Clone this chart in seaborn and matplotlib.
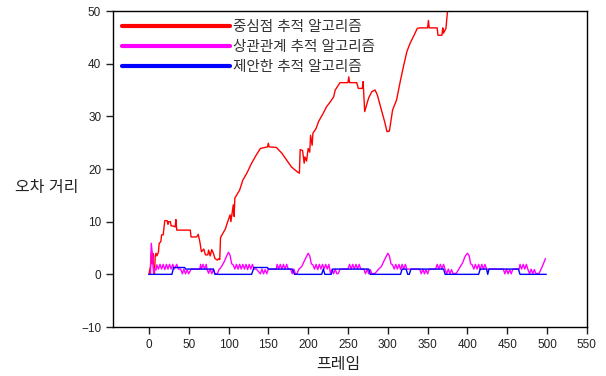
import numpy as np
import pandas as pd
import matplotlib
matplotlib.use("Agg")
import matplotlib.pyplot as plt
import seaborn as sns

# red: centroid tracking (frame, error)
red_frame = [0, 2, 3, 4, 5, 6, 7, 8, 9, 10, 12, 13, 15, 16, 18, 20, 23, 24, 25, 27, 28, 30, 33,
             34, 35, 52, 53, 60, 62, 64, 66, 69, 71, 74, 75, 77, 79, 81, 83, 86, 88, 89, 90, 93,
             96, 99, 102, 103, 106, 107, 108, 110, 114, 118, 123, 129, 135, 140, 149, 150, 151,
             160, 167, 173, 179, 186, 189, 190, 193, 195, 196, 198, 200, 202, 203, 205, 206, 210,
             213, 219, 223, 228, 232, 234, 240, 250, 251, 252, 261, 263, 268, 269, 271, 274, 276,
             280, 284, 287, 292, 296, 299, 302, 306, 311, 316, 320, 324, 328, 333, 337, 340, 350,
             351, 352, 362, 363, 368, 369, 370, 373, 375, 378]
red_err = [0, 1.5, 4.0, 2.0, 4.0, 0.5, 0, 3.5, 4.0, 3.5, 4.2, 5.9, 6.2, 7.5, 7.5, 10.2, 10.2, 9.5,
           10.0, 10.0, 9.2, 9.2, 9.0, 10.4, 8.4, 8.4, 7.1, 7.1, 7.6, 6.2, 4.3, 4.8, 3.7, 3.7, 4.6,
           3.5, 4.7, 4.0, 3.0, 2.7, 3.0, 2.8, 7.0, 7.8, 8.6, 10.0, 11.3, 10.0, 13.2, 11.0, 14.5,
           15.0, 16.0, 17.9, 19.2, 21.1, 22.7, 23.9, 24.2, 24.9, 24.2, 24.1, 23.0, 21.7, 20.4,
           19.5, 19.2, 23.7, 23.5, 21.1, 22.3, 21.5, 23.9, 23.2, 26.4, 24.5, 26.8, 27.7, 29.0,
           30.6, 31.8, 32.8, 33.7, 35.0, 36.4, 36.4, 37.5, 36.4, 36.4, 35.3, 35.3, 36.6, 30.9,
           32.5, 33.5, 34.7, 35.0, 34.0, 31.2, 29.0, 27.1, 27.2, 31.2, 33.1, 36.9, 39.7, 42.3,
           43.9, 45.4, 46.7, 46.8, 46.8, 48.2, 46.8, 46.8, 45.4, 45.4, 46.8, 45.8, 46.7, 50, 56]

# magenta: correlation tracking
mag_frame = [0, 2, 3, 5, 6, 7, 9, 10, 12, 14, 16, 18, 20, 22, 24, 26, 28, 30, 32, 35, 37, 40, 42,
             44, 46, 48, 50, 53, 64, 65, 66, 68, 70, 72, 73, 75, 77, 79, 81, 83, 86, 88, 90, 94,
             98, 100, 102, 104, 106, 108,
             110, 112, 114, 116, 118, 120, 122, 124, 126, 128, 130, 132, 135, 140, 142, 144, 146,
             148, 150, 160, 161, 163, 165, 167, 169, 171, 173, 175, 178, 180, 182, 184, 186, 188,
             192, 196, 200, 202, 204, 206, 208,
             210, 212, 214, 216, 218, 220, 222, 224, 226, 228, 230, 232, 234, 236, 238, 240, 250,
             252, 254, 256, 258, 260, 262, 264, 266, 270, 272, 274, 276, 278, 280, 284, 288, 292,
             296, 300, 302, 304, 306, 308,
             310, 312, 314, 316, 318, 320, 322, 324, 330, 340, 342, 344, 346, 348, 350, 352, 360,
             362, 364, 366, 368, 370, 372, 374, 376, 378, 380, 382, 386, 390, 394, 397, 400, 402,
             404, 406, 408,
             410, 412, 414, 416, 418, 420, 422, 424, 426, 445, 447, 449, 451, 453, 455, 457, 465,
             466, 468, 470, 472, 474, 476, 478, 480, 482, 484, 486, 490, 494, 498]
mag_err = [0, 0, 5.9, 3.0, 0.3, 1.0, 0.8, 1.8, 1.0, 1.9, 1.0, 1.9, 0.9, 1.9, 1.0, 1.9, 1.0, 1.9,
           1.0, 1.9, 1.0, 1.0, 0.1, 1.0, 0.1, 0.8, 0.1, 1.0, 1.0, 1.9, 1.0, 1.9, 1.0, 1.9, 1.0,
           0.2, 1.0, 0.1, 1.0, 0.1, 0.1, 0.9, 1.2, 2.2, 3.6, 4.2, 3.6, 2.0, 1.8, 1.0,
           1.9, 1.0, 1.9, 1.0, 1.9, 1.0, 1.9, 0.9, 1.9, 1.0, 1.9, 1.0, 1.0, 0.1, 1.0, 0.1, 0.9,
           0.1, 1.0, 1.0, 1.9, 1.0, 1.9, 1.0, 1.9, 1.0, 1.9, 1.0, 1.0, 0.1, 1.0, 0.1, 0.1, 0.9,
           1.5, 2.8, 4.0, 3.5, 2.0, 1.8, 1.0,
           1.9, 0.9, 1.9, 1.0, 1.9, 1.0, 1.9, 1.0, 1.9, 0.2, 1.0, 0.1, 1.0, 0.1, 0.2, 1.0, 1.0,
           1.9, 1.0, 1.9, 1.0, 1.9, 1.0, 1.9, 1.0, 1.0, 0.1, 1.0, 0.1, 0.9, 0.1, 0.2, 0.9, 1.5,
           2.8, 4.0, 3.5, 2.0, 1.8, 1.0,
           1.9, 1.0, 1.9, 0.9, 1.9, 1.0, 1.9, 1.0, 1.0, 1.0, 0.1, 1.0, 0.1, 0.9, 0.1, 1.0, 1.0,
           1.9, 1.0, 1.9, 1.0, 1.9, 0.9, 0.1, 1.0, 0.1, 0.9, 0.1, 0.2, 1.2, 2.2, 3.4, 4.0, 3.6,
           2.0, 1.8, 1.0,
           1.9, 1.0, 1.9, 0.9, 1.9, 1.0, 1.9, 1.0, 1.0, 1.0, 0.1, 1.0, 0.1, 0.9, 0.1, 1.0, 1.0,
           1.9, 1.0, 1.9, 1.0, 1.9, 0.9, 0.1, 1.0, 0.1, 0.9, 0.1, 0.2, 1.5, 3.0]

# blue: proposed tracking
blue_frame = [0, 29, 31, 45, 46, 81, 83, 129, 132, 149, 150, 180, 183, 217, 219, 221, 229, 231,
              276, 278, 316, 318, 323, 325, 327, 329, 370, 372, 414, 416, 424, 425.5, 427, 464,
              466, 499]
blue_err = [0, 0, 1.3, 1.3, 1.0, 1.0, 0, 0, 1.3, 1.3, 1.0, 1.0, 0, 0, 1.0, 0, 0, 1.0,
            1.0, 0, 0, 1.0, 1.0, 0, 0, 1.0, 1.0, 0, 0, 1.0, 1.0, 0, 1.0, 1.0,
            0, 0]

names = ["중심점 추적 알고리즘", "상관관계 추적 알고리즘", "제안한 추적 알고리즘"]
colors = ["#ff0000", "#ff00ff", "#0000ff"]

sns.set_style("ticks")
plt.rcParams["font.family"] = ["Liberation Sans", "Noto Sans CJK KR"]

fig = plt.figure(figsize=(6.06, 3.76), dpi=100)
ax = fig.add_axes([0.1865, 0.1303, 0.782, 0.8404])

series = [(red_frame, red_err), (mag_frame, mag_err), (blue_frame, blue_err)]
for (fr, er), name, c in zip(series, names, colors):
    df = pd.DataFrame({"frame": fr, "err": er})
    sns.lineplot(data=df, x="frame", y="err", ax=ax, color=c, lw=1,
                 sort=False, estimator=None, label=name)

ax.set_xlim(-45, 550)
ax.set_ylim(-10, 50)
ax.set_xticks(np.arange(0, 551, 50))
ax.set_yticks(np.arange(-10, 51, 10))
ax.tick_params(axis="both", direction="out", length=5, width=1, labelsize=8.5,
               colors="#222222", top=False, right=False)
for s in ax.spines.values():
    s.set_visible(True)
    s.set_color("black")
    s.set_linewidth(1)

ax.set_xlabel("프레임", fontsize=11.5, color="#222222", va="center")
ax.xaxis.set_label_coords(0.475, -0.118)
ax.set_ylabel("오차 거리", fontsize=11.5, color="#222222", rotation=0, ha="center", va="center")
ax.yaxis.set_label_coords(-0.139, 0.443)

leg = ax.legend(loc="upper left", frameon=False, fontsize=10.5, handlelength=7.4,
                handletextpad=0.25, borderaxespad=0.2, labelspacing=0.42,
                bbox_to_anchor=(0.0, 1.0))
for h in leg.get_lines():
    h.set_linewidth(3)
for t in leg.get_texts():
    t.set_color("#333333")

fig.savefig("out.png", dpi=100)
